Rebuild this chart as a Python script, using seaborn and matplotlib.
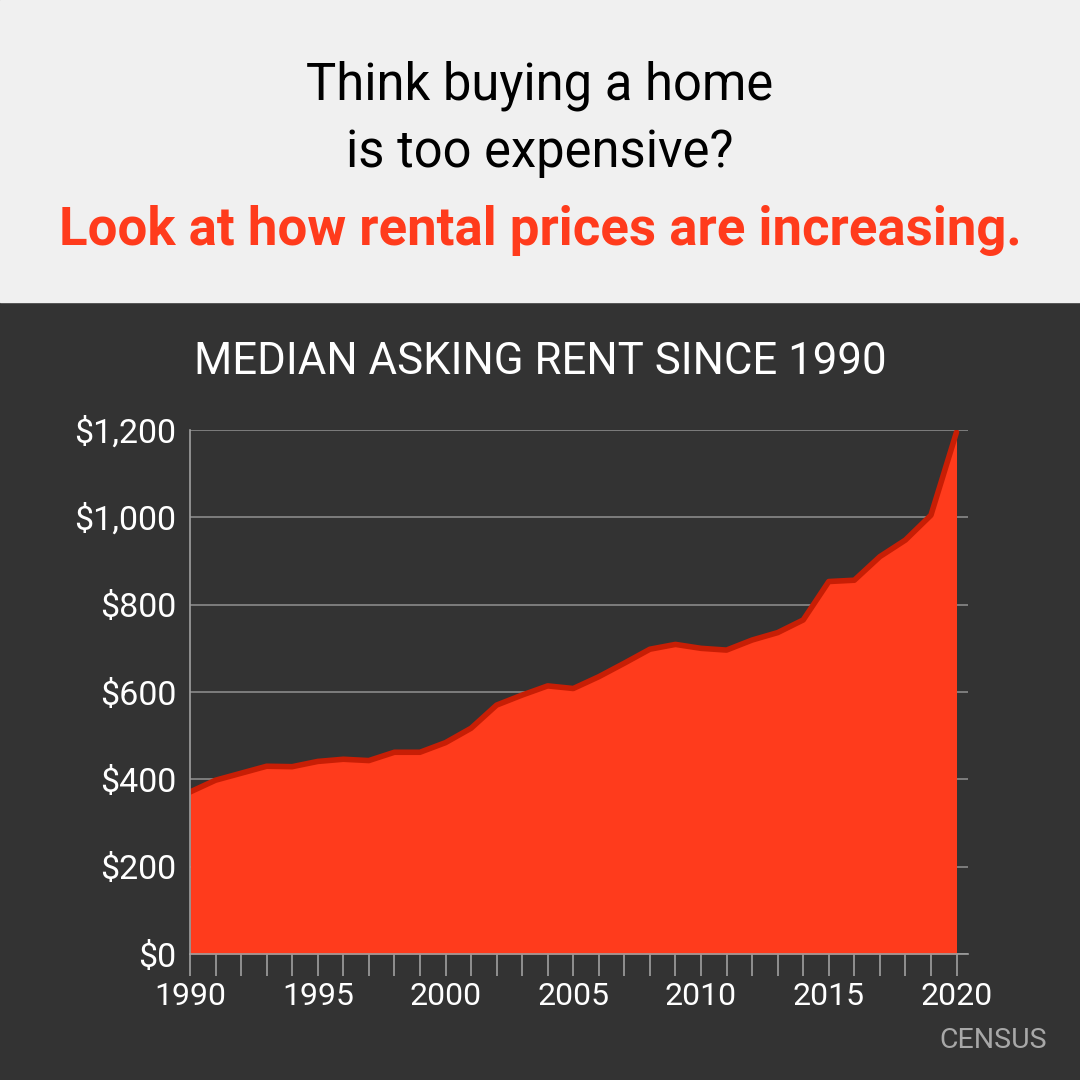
import numpy as np
import pandas as pd
import matplotlib.pyplot as plt
import seaborn as sns
from matplotlib.ticker import FuncFormatter, MultipleLocator

years = list(range(1990, 2021))
rent = [371, 398, 414, 430, 429, 441, 446, 443, 462, 462,
        484, 517, 570, 593, 614, 608, 635, 666, 698, 709,
        700, 696, 719, 736, 765, 853, 856, 910, 948, 1005, 1195]
ytick_values = [0, 200, 400, 600, 800, 1000, 1200]
xtick_labels = [1990, 1995, 2000, 2005, 2010, 2015, 2020]

df = pd.DataFrame({"Year": years, "Rent": rent})

sns.set_theme(style="dark")
plt.rcParams["font.family"] = ["Roboto", "DejaVu Sans"]

dark = "#333333"
red = "#ff3b1c"

fig = plt.figure(figsize=(10.8, 10.8), dpi=100, facecolor=dark)

# light header band
fig.patches.append(plt.Rectangle((0, 1 - 302 / 1080), 1, 302 / 1080,
                                 transform=fig.transFigure, color="#f0f0f0", zorder=0))
fig.text(0.5, 1 - 86 / 1080, "Think buying a home", ha="center", va="center",
         fontsize=36.5, color="black")
fig.text(0.5, 1 - 153 / 1080, "is too expensive?", ha="center", va="center",
         fontsize=36.5, color="black")
fig.text(0.5, 1 - 230 / 1080, "Look at how rental prices are increasing.", ha="center",
         va="center", fontsize=38, color=red, fontweight="bold")
fig.text(0.5, 1 - 362 / 1080, "MEDIAN ASKING RENT SINCE 1990", ha="center", va="center",
         fontsize=31.5, color="white")
fig.text(1047 / 1080, 1 - 1041 / 1080, "CENSUS", ha="right", va="center",
         fontsize=20.5, color="#a8a8a8")

ax = fig.add_axes([190 / 1080, 1 - 954 / 1080, (968 - 190) / 1080, (954 - 430) / 1080])
ax.set_facecolor(dark)

ax.fill_between(df["Year"], df["Rent"], color=red, zorder=2, linewidth=0)
sns.lineplot(data=df, x="Year", y="Rent", ax=ax, color="#c81e05", linewidth=4, zorder=3)

ax.set_xlim(1990, 2020.45)
ax.set_ylim(0, 1200)
ax.set_yticks(ytick_values)
ax.yaxis.set_major_formatter(FuncFormatter(lambda v, p: f"${int(v):,}"))
ax.set_xticks(xtick_labels)
ax.xaxis.set_minor_locator(MultipleLocator(1))
ax.grid(axis="y", color="#8a8a8a", linewidth=1.2, zorder=1)
ax.grid(axis="x", visible=False)
ax.set_axisbelow(True)

for s in ["top", "right"]:
    ax.spines[s].set_visible(False)
for s in ["left", "bottom"]:
    ax.spines[s].set_color("#a0a0a0")
    ax.spines[s].set_linewidth(1.2)
    ax.spines[s].set_zorder(4)

ax.tick_params(axis="y", colors="white", labelsize=24.5, length=0, pad=10)
ax.tick_params(axis="x", which="both", colors="#a0a0a0", labelcolor="white",
               labelsize=23, direction="out", length=16, width=1.2, bottom=True, pad=4)
ax.set_xlabel("")
ax.set_ylabel("")

fig.savefig("out.png", dpi=100, facecolor=dark)
